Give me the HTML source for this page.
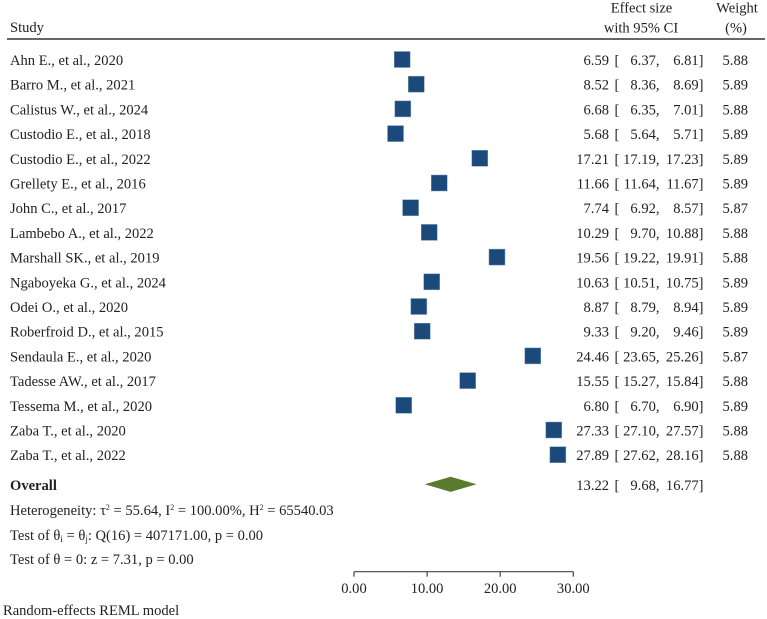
<!DOCTYPE html>
<html>
<head>
<meta charset="utf-8">
<title>Forest plot</title>
<style>
html,body{margin:0;padding:0;background:#fff;}
svg{display:block;}
text{font-family:"Liberation Serif",serif;font-size:14.55px;fill:#222;}
</style>
</head>
<body>
<svg id="chart" width="767" height="619" viewBox="0 0 767 619" xmlns="http://www.w3.org/2000/svg">
  <text x="10" y="32">Study</text>
  <text x="641.5" y="12.5" text-anchor="middle">Effect size</text>
  <text x="641" y="32.5" text-anchor="middle">with 95% CI</text>
  <text x="737" y="12.5" text-anchor="middle">Weight</text>
  <text x="736" y="32.5" text-anchor="middle">(%)</text>
  <line x1="7" y1="39" x2="765" y2="39" stroke="#333" stroke-width="1.5"/>
  <g id="rows"></g>
  <g id="overall"></g>
  <text x="10" y="515">Heterogeneity: τ<tspan dy="-5" style="font-size:8px">2</tspan><tspan dy="5"> = 55.64, I</tspan><tspan dy="-5" style="font-size:8px">2</tspan><tspan dy="5"> = 100.00%, H</tspan><tspan dy="-5" style="font-size:8px">2</tspan><tspan dy="5"> = 65540.03</tspan></text>
  <text x="10" y="540">Test of θ<tspan dy="2" style="font-size:9px">i</tspan><tspan dy="-2"> = θ</tspan><tspan dy="2" style="font-size:9px">j</tspan><tspan dy="-2">: Q(16) = 407171.00, p = 0.00</tspan></text>
  <text x="10" y="564">Test of θ = 0: z = 7.31, p = 0.00</text>
  <text x="3" y="615">Random-effects REML model</text>
  <g id="axis"></g>
</svg>
<script>
const studies = ["Ahn E., et al., 2020","Barro M., et al., 2021","Calistus W., et al., 2024","Custodio E., et al., 2018","Custodio E., et al., 2022","Grellety E., et al., 2016","John C., et al., 2017","Lambebo A., et al., 2022","Marshall SK., et al., 2019","Ngaboyeka G., et al., 2024","Odei O., et al., 2020","Roberfroid D., et al., 2015","Sendaula E., et al., 2020","Tadesse AW., et al., 2017","Tessema M., et al., 2020","Zaba T., et al., 2020","Zaba T., et al., 2022"];
const effects = [6.59,8.52,6.68,5.68,17.21,11.66,7.74,10.29,19.56,10.63,8.87,9.33,24.46,15.55,6.80,27.33,27.89];
const lower = [6.37,8.36,6.35,5.64,17.19,11.64,6.92,9.70,19.22,10.51,8.79,9.20,23.65,15.27,6.70,27.10,27.62];
const upper = [6.81,8.69,7.01,5.71,17.23,11.67,8.57,10.88,19.91,10.75,8.94,9.46,25.26,15.84,6.90,27.57,28.16];
const weights = [5.88,5.89,5.88,5.89,5.89,5.89,5.87,5.88,5.88,5.89,5.89,5.89,5.87,5.88,5.89,5.88,5.88];
const overallEffect = 13.22;
const overallLower = 9.68;
const overallUpper = 16.77;
const axisTicks = [0,10,20,30];

const NS = "http://www.w3.org/2000/svg";
const xScale = v => 354 + v * (573.3 - 354) / 30;
const yScale = i => 59.5 + i * 24.7;

function makeText(parent, x, y, str, anchor, bold) {
  const t = document.createElementNS(NS, "text");
  t.setAttribute("x", x);
  t.setAttribute("y", y);
  if (anchor) t.setAttribute("text-anchor", anchor);
  if (bold) t.setAttribute("font-weight", "bold");
  t.textContent = str;
  parent.appendChild(t);
  return t;
}

function addCiText(parent, y, e, l, u) {
  const a = makeText(parent, 609, y, e.toFixed(2), "end");
  
  
  const b = makeText(parent, 614.5, y, "[");
  
  
  const c = makeText(parent, 659.5, y, l.toFixed(2) + ",", "end");
  
  
  const d = makeText(parent, 703.5, y, u.toFixed(2) + "]", "end");
  
  
}

const rowsG = document.getElementById("rows");
studies.forEach((name, i) => {
  const cy = yScale(i);
  const base = cy + 5.5;
  const label = makeText(rowsG, 10, base, name);
  
  

  const ci = document.createElementNS(NS, "line");
  
  
  ci.setAttribute("x1", xScale(lower[i]));
  ci.setAttribute("x2", xScale(upper[i]));
  ci.setAttribute("y1", cy);
  ci.setAttribute("y2", cy);
  ci.setAttribute("stroke", "#1b4a7a");
  rowsG.appendChild(ci);

  const sq = document.createElementNS(NS, "rect");
  
  
  sq.setAttribute("x", xScale(effects[i]) - 8);
  sq.setAttribute("y", cy - 8);
  sq.setAttribute("width", 16);
  sq.setAttribute("height", 16);
  sq.setAttribute("fill", "#1b4a7a");
  sq.setAttribute("stroke", "#7f9dba");
  sq.setAttribute("stroke-width", "0.5");
  rowsG.appendChild(sq);

  addCiText(rowsG, base, effects[i], lower[i], upper[i]);

  const w = makeText(rowsG, 748, base, weights[i].toFixed(2), "end");
  
  
});

const overallG = document.getElementById("overall");
const overallY = 484.3;
const overallLabel = makeText(overallG, 10, 490, "Overall", null, true);


const diamond = document.createElementNS(NS, "polygon");


diamond.setAttribute("points", [
  [xScale(overallLower), overallY],
  [xScale(overallEffect), overallY - 7.6],
  [xScale(overallUpper), overallY],
  [xScale(overallEffect), overallY + 7.6]
].map(p => p.join(",")).join(" "));
diamond.setAttribute("fill", "#5a7a2e");
overallG.appendChild(diamond);
addCiText(overallG, 490, overallEffect, overallLower, overallUpper);

const axisG = document.getElementById("axis");
const axisY = 571.7;
const axisLine = document.createElementNS(NS, "line");


axisLine.setAttribute("x1", xScale(axisTicks[0]));
axisLine.setAttribute("x2", xScale(axisTicks[axisTicks.length - 1]));
axisLine.setAttribute("y1", axisY);
axisLine.setAttribute("y2", axisY);
axisLine.setAttribute("stroke", "#444");
axisLine.setAttribute("stroke-width", "1.2");
axisG.appendChild(axisLine);
axisTicks.forEach(v => {
  const tk = document.createElementNS(NS, "line");
  
  
  tk.setAttribute("x1", xScale(v));
  tk.setAttribute("x2", xScale(v));
  tk.setAttribute("y1", axisY);
  tk.setAttribute("y2", axisY + 5);
  tk.setAttribute("stroke", "#444");
  tk.setAttribute("stroke-width", "1.2");
  axisG.appendChild(tk);
  const lb = makeText(axisG, xScale(v), 593, v.toFixed(2), "middle");
  
  
});
</script>
</body>
</html>
